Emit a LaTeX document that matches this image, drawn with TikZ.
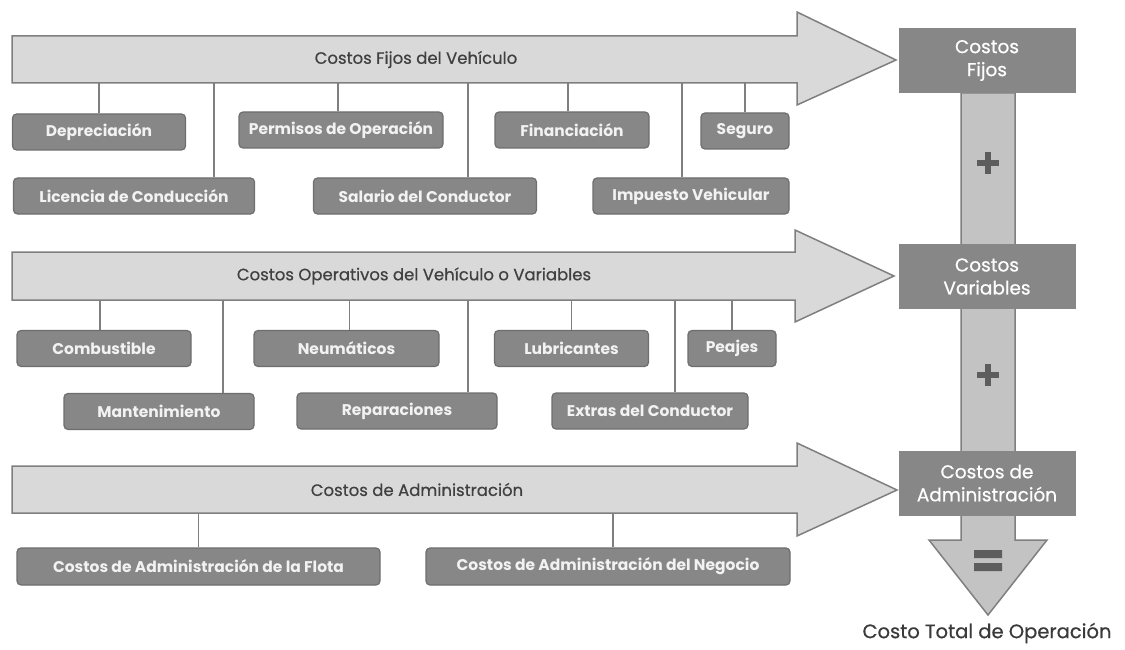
\documentclass[tikz,border=0pt]{standalone}
\usepackage{fontspec}
\setmainfont{Poppins}
\newfontfamily\labelfont[FakeBold=0.6]{Poppins}
\definecolor{arrowfill}{HTML}{D9D9D9}
\definecolor{arrowline}{HTML}{7F7F7F}
\definecolor{boxfill}{HTML}{878787}
\definecolor{boxline}{HTML}{6E6E6E}
\definecolor{barfill}{HTML}{C3C3C3}
\definecolor{textdark}{HTML}{404040}
\tikzset{
  arrowshape/.style={draw=arrowline, fill=arrowfill, line width=1.5pt, line join=miter},
  arrowlabel/.style={font=\labelfont\fontsize{16.5}{18}\selectfont, text=textdark, inner sep=0pt, minimum height=47pt},
  costbox/.style={draw=boxline, fill=boxfill, line width=1.2pt, rounded corners=4pt, text=white!95!black,
    font=\bfseries\fontsize{15.5}{17}\selectfont, minimum height=36pt, inner sep=0pt},
  totalbox/.style={fill=boxfill, text=white, font=\labelfont\fontsize{18.5}{23}\selectfont, align=center,
    minimum width=177pt, minimum height=65pt, inner sep=0pt},
  link/.style={draw=arrowline, line width=1.5pt},
  sign/.style={draw=textdark!85, line width=6pt}
}
\begin{document}
\begin{tikzpicture}[x=1pt, y=-1pt]
  \useasboundingbox (0,0) rectangle (1125,650);
  % vertical bar and final arrow
  \path[arrowshape, fill=barfill] (961,93) -- (961,540) -- (929,540) -- (988,615) -- (1047,540) -- (1015,540) -- (1015,93) -- cycle;
  \draw[sign] (988,152) -- (988,174) (977,163) -- (999,163);
  \draw[sign] (988,364) -- (988,386) (977,375) -- (999,375);
  \fill[textdark!85] (974,550) rectangle (1002,558) (974,563) rectangle (1002,571);
  \node[totalbox] (cfijos) at (987,60.5) {Costos\\Fijos};
  \node[totalbox] (cvariables) at (987,276.5) {Costos\\Variables};
  \node[totalbox] (cadmin) at (987,483) {Costos de\\Administración};
  \node[font=\labelfont\fontsize{19.5}{22}\selectfont, text=textdark!90!black] (total) at (987,633) {Costo Total de Operación};

  % fixed costs
  \path[arrowshape] (12,36) -- (797,36) -- (797,12) -- (896,60) -- (797,105) -- (797,83) -- (12,83) -- cycle;
  \node[arrowlabel, minimum width=808pt] (fijos) at (416,59.5) {Costos Fijos del Vehículo};
  \node[costbox, minimum width=173pt] (deprec) at (99,132) {Depreciación};
  \node[costbox, minimum width=204pt] (permisos) at (341,130) {Permisos de Operación};
  \node[costbox, minimum width=154pt] (financ) at (572,130) {Financiación};
  \node[costbox, minimum width=88pt] (seguro) at (745,131) {Seguro};
  \node[costbox, minimum width=241pt] (licencia) at (134,196) {Licencia de Conducción};
  \node[costbox, minimum width=223pt] (salario) at (425,196) {Salario del Conductor};
  \node[costbox, minimum width=196pt] (impuesto) at (691,196) {Impuesto Vehicular};
  \draw[link] (deprec.north) -- (deprec.north |- fijos.south);
  \draw[link] ([xshift=-3pt]permisos.north) -- ([xshift=-3pt]permisos.north |- fijos.south);
  \draw[link] ([xshift=-4pt]financ.north) -- ([xshift=-4pt]financ.north |- fijos.south);
  \draw[link] (seguro.north) -- (seguro.north |- fijos.south);
  \draw[link] ([xshift=80pt]licencia.north) -- ([xshift=80pt]licencia.north |- fijos.south);
  \draw[link] ([xshift=43pt]salario.north) -- ([xshift=43pt]salario.north |- fijos.south);
  \draw[link] ([xshift=-9pt]impuesto.north) -- ([xshift=-9pt]impuesto.north |- fijos.south);

  % variable costs
  \path[arrowshape] (12,252) -- (795,252) -- (795,230) -- (894,276) -- (795,322) -- (795,300) -- (12,300) -- cycle;
  \node[arrowlabel, minimum width=806pt, minimum height=48pt] (variables) at (414,276) {Costos Operativos del Vehículo o Variables};
  \node[costbox, minimum width=174pt] (combust) at (104,348.5) {Combustible};
  \node[costbox, minimum width=185pt] (neumat) at (346.5,348.5) {Neumáticos};
  \node[costbox, minimum width=154pt] (lubric) at (571.5,348.5) {Lubricantes};
  \node[costbox, minimum width=88pt] (peajes) at (732,348.5) {Peajes};
  \node[costbox, minimum width=190pt] (manten) at (159,411.5) {Mantenimiento};
  \node[costbox, minimum width=200pt] (repar) at (397,411) {Reparaciones};
  \node[costbox, minimum width=196pt] (extras) at (650,411) {Extras del Conductor};
  \draw[link] ([xshift=-4pt]combust.north) -- ([xshift=-4pt]combust.north |- variables.south);
  \draw[link] ([xshift=3pt]neumat.north) -- ([xshift=3pt]neumat.north |- variables.south);
  \draw[link] (lubric.north) -- (lubric.north |- variables.south);
  \draw[link] (peajes.north) -- (peajes.north |- variables.south);
  \draw[link] ([xshift=64pt]manten.north) -- ([xshift=64pt]manten.north |- variables.south);
  \draw[link] ([xshift=71pt]repar.north) -- ([xshift=71pt]repar.north |- variables.south);
  \draw[link] ([xshift=25pt]extras.north) -- ([xshift=25pt]extras.north |- variables.south);

  % administration costs
  \path[arrowshape] (12,466) -- (797,466) -- (797,443) -- (897,490) -- (797,536) -- (797,513) -- (12,513) -- cycle;
  \node[arrowlabel, minimum width=810pt] (admin) at (417,489.5) {Costos de Administración};
  \node[costbox, minimum width=363pt, minimum height=37pt] (flota) at (198.5,566.5) {Costos de Administración de la Flota};
  \node[costbox, minimum width=364pt, minimum height=37pt] (negocio) at (608,566.5) {Costos de Administración del Negocio};
  \draw[link] (flota.north) -- (flota.north |- admin.south);
  \draw[link] ([xshift=5pt]negocio.north) -- ([xshift=5pt]negocio.north |- admin.south);
\end{tikzpicture}
\end{document}
